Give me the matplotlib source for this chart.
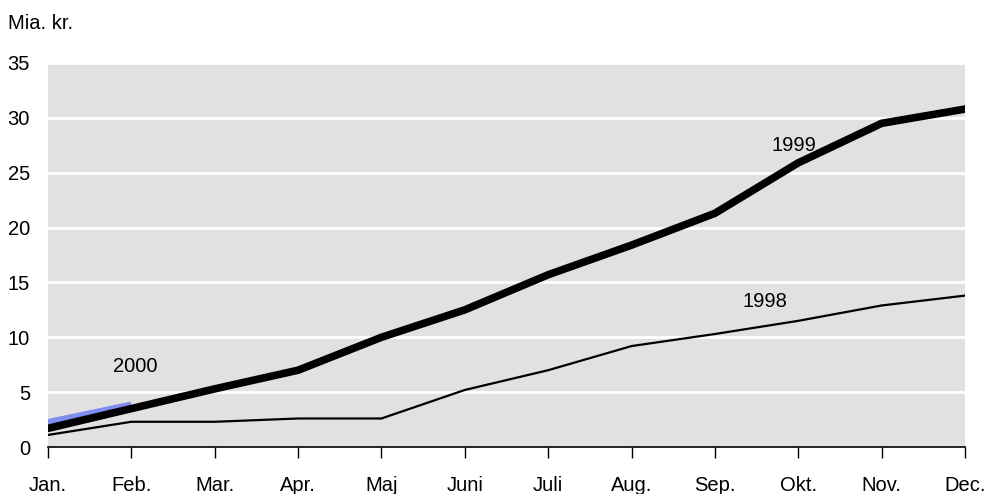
import matplotlib
matplotlib.use("Agg")
import matplotlib.pyplot as plt
from matplotlib import font_manager

# Data (Mia. kr., cumulative)
months = ["Jan.", "Feb.", "Mar.", "Apr.", "Maj", "Juni", "Juli", "Aug.", "Sep.", "Okt.", "Nov.", "Dec."]
y1998 = [1.1, 2.3, 2.3, 2.6, 2.6, 5.2, 7.0, 9.2, 10.3, 11.5, 12.9, 13.8]
y1999 = [1.7, 3.5, 5.3, 7.0, 10.0, 12.5, 15.7, 18.4, 21.3, 25.9, 29.5, 30.8]
y2000 = [2.2, 3.8]

names = {f.name for f in font_manager.fontManager.ttflist}
fam = "Liberation Sans Narrow" if "Liberation Sans Narrow" in names else "Liberation Sans"
plt.rcParams["font.family"] = [fam, "DejaVu Sans"]
plt.rcParams["font.size"] = 14.5

fig = plt.figure(figsize=(9.87, 4.94), dpi=100)
ax = fig.add_axes([0.0486, 0.0951, 0.9291, 0.7774])
ax.set_facecolor("#e1e1e1")

x = list(range(len(months)))
ax.plot(x, y1998, color="black", lw=1.6, zorder=3)
ax.plot(x, y1999, color="black", lw=5.5, solid_capstyle="round", zorder=4)
ax.plot(x[:len(y2000)], y2000, color="#7f8cf0", lw=5.5, solid_capstyle="butt", zorder=3)

ax.text(1.05, 7.3, "2000", ha="center", va="center")
ax.text(8.95, 27.5, "1999", ha="center", va="center")
ax.text(8.6, 13.3, "1998", ha="center", va="center")

ax.set_xlim(0, 11)
ax.set_ylim(0, 35)
ax.set_yticks(range(0, 36, 5))
ax.set_xticks(x)
ax.set_xticklabels(months)
ax.grid(axis="y", color="white", lw=2)
ax.set_axisbelow(True)

for s in ["top", "right", "left"]:
    ax.spines[s].set_visible(False)
ax.spines["bottom"].set_color("black")
ax.spines["bottom"].set_linewidth(1.2)
ax.spines["bottom"].set_zorder(5)
ax.tick_params(axis="y", length=0, pad=13)
ax.tick_params(axis="x", length=8, width=1, direction="out", pad=13)

fig.text(0.008, 0.952, "Mia. kr.", ha="left", va="center")

fig.savefig("out.png", dpi=100)
